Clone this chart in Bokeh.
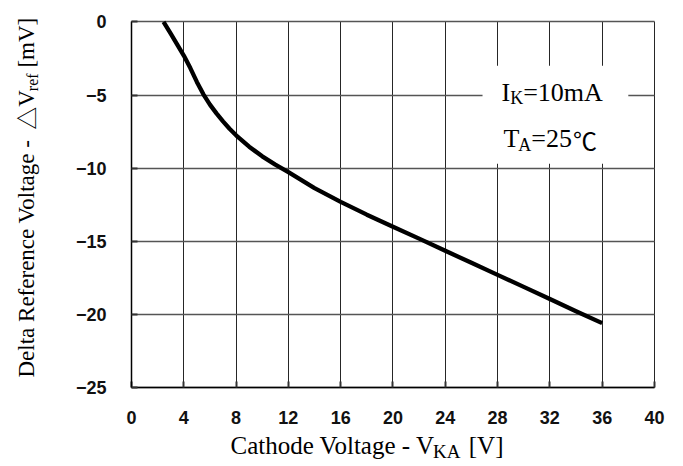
from math import pi
from bokeh.plotting import figure
from bokeh.models import Range1d, FixedTicker, Label, BoxAnnotation, Grid
from bokeh.embed import file_html
from bokeh.resources import INLINE

# ---- data ----
vka = [2.45, 3, 3.5, 4, 4.5, 5, 5.5, 6, 6.5, 7, 7.5, 8, 9, 10, 11, 12, 14, 16,
       18, 20, 22, 24, 26, 28, 30, 32, 34, 36]
dvref = [0, -0.8, -1.55, -2.3, -3.15, -4.1, -4.95, -5.65, -6.25, -6.8, -7.3, -7.75,
         -8.53, -9.19, -9.76, -10.27, -11.36, -12.3, -13.18, -14.0, -14.82, -15.65,
         -16.47, -17.3, -18.12, -18.95, -19.78, -20.6]

x_ticks = [0, 4, 8, 12, 16, 20, 24, 28, 32, 36, 40]
x_tick_labels = ["0", "4", "8", "12", "16", "20", "24", "28", "32", "36", "40"]
y_ticks = [0, -5, -10, -15, -20, -25]
y_tick_labels = ["0", "\u22125", "\u221210", "\u221215", "\u221220", "\u221225"]

x_axis_span = (0, 40)
y_axis_span = (-25, 0)
# visible ranges extended so the titles sit inside the drawing area
x_view = (-10.02, 41.61)
y_view = (-30.13, 1.47)

cond_box = dict(left=26.85, right=38.0, top=-3.0, bottom=-9.7)
cond_row1 = (28.3, -5.37)
cond_row2 = (28.45, -8.56)

SERIF = "Liberation Serif"
CJK = "Noto Sans CJK JP"
BASE_K = 0.32   # anchor-to-baseline correction (fraction of font size)

p = figure(frame_width=675, frame_height=462,
           min_border_left=0, min_border_right=0,
           min_border_top=0, min_border_bottom=0,
           x_range=Range1d(*x_view), y_range=Range1d(*y_view),
           output_backend="svg", toolbar_location=None,
           background_fill_color="white", border_fill_color="white")

p.outline_line_color = None

for ax, ticks, labels, loc, span in ((p.xaxis[0], x_ticks, x_tick_labels, y_axis_span[0], x_axis_span),
                                     (p.yaxis[0], y_ticks, y_tick_labels, x_axis_span[0], y_axis_span)):
    ax.ticker = FixedTicker(ticks=ticks)
    ax.major_label_overrides = {t: l for t, l in zip(ticks, labels)}
    ax.fixed_location = loc
    ax.bounds = span
    ax.axis_line_color = "black"
    ax.axis_line_width = 1.5
    ax.major_tick_in = 6
    ax.major_tick_out = 0
    ax.major_tick_line_color = "#333333"
    ax.major_tick_line_width = 2
    ax.minor_tick_line_color = None
    ax.major_label_text_font = "Liberation Sans"
    ax.major_label_text_font_size = "18px"
    ax.major_label_text_font_style = "bold"
    ax.major_label_text_color = "#111111"

p.xaxis.major_label_standoff = 24
p.yaxis.major_label_standoff = 25

has_cross = "cross_bounds" in Grid.properties()
if has_cross:
    p.xgrid.bounds = x_axis_span
    p.xgrid.cross_bounds = y_axis_span
    p.ygrid.bounds = y_axis_span
    p.ygrid.cross_bounds = x_axis_span
    p.xgrid.grid_line_color = "#262626"
    p.xgrid.grid_line_width = 1
    p.ygrid.grid_line_color = "#555555"
    p.ygrid.grid_line_width = 1.4
else:
    p.xgrid.grid_line_color = None
    p.ygrid.grid_line_color = None
    p.segment(x0=x_ticks, x1=x_ticks, y0=[y_axis_span[0]] * len(x_ticks),
              y1=[y_axis_span[1]] * len(x_ticks), line_color="#262626", line_width=1)
    p.segment(x0=[x_axis_span[0]] * len(y_ticks), x1=[x_axis_span[1]] * len(y_ticks),
              y0=y_ticks, y1=y_ticks, line_color="#555555", line_width=1.4)

p.line(vka, dvref, line_color="black", line_width=4.3, line_cap="butt", line_join="round")

p.add_layout(BoxAnnotation(fill_color="white", fill_alpha=1.0, line_color=None,
                           level="annotation", **cond_box))

W = {' ': 250, 'C': 667, 'a': 444, 't': 278, 'h': 500, 'o': 500, 'd': 500, 'e': 444,
     'V': 722, 'l': 278, 'g': 500, '-': 333, 'K': 722, 'A': 722, '[': 333, ']': 333,
     'm': 778, 'I': 333, 'T': 611, '=': 564, '1': 500, '0': 500, '2': 500, '5': 500,
     'D': 722, 'R': 667, 'f': 333, 'r': 333, 'n': 500, 'c': 444}


def tw(s, size, font):
    if font == CJK:
        return size * len(s)
    return sum(W.get(c, 500) for c in s) * size / 1000.0


def run(pieces, x, y, dx, dy, vertical=False):
    """pieces: (text, size_px, baseline_drop_px, font, extra_advance_px)"""
    adv = 0.0
    for txt, size, drop, font, extra in pieces:
        adv += extra
        lead = len(txt) - len(txt.lstrip(" "))
        adv += tw(" " * lead, size, font)
        txt = txt.strip(" ")
        fix = BASE_K * size
        if vertical:
            xo, yo, ang = dx + drop - fix, dy + adv, pi / 2
        else:
            xo, yo, ang = dx + adv, dy - drop + fix, 0
        p.add_layout(Label(x=x, y=y, x_offset=xo, y_offset=yo, text=txt,
                           text_font=font, text_font_size=f"{size}px",
                           text_color="black", text_align="left",
                           text_baseline="alphabetic", angle=ang))
        adv += tw(txt, size, font)


# x-axis title (anchored at the axes' bottom-left corner, offsets in px)
run([("Cathode Voltage - V", 25, 0, SERIF, 0),
     ("KA", 19, 4, SERIF, -5),
     (" [V]", 25, 0, SERIF, 2)], x_axis_span[0], y_axis_span[0], 99, -66)

# y-axis title (rotated)
run([("Delta Reference Voltage -  ", 23, 0, SERIF, 0),
     ("\u25b3", 23, 0, CJK, 7),
     ("V", 23, 0, SERIF, 0),
     ("ref", 16, 3.5, SERIF, -1),
     (" [mV]", 23, 0, SERIF, 0)], x_axis_span[0], y_axis_span[0], -97.7, 10, vertical=True)

# conditions
run([("I", 26, 0, SERIF, 0), ("K", 18, 3.5, SERIF, 0), ("=10mA", 26, 0, SERIF, 0)],
    cond_row1[0], cond_row1[1], 0, 0)
run([("T", 26, 0, SERIF, 0), ("A", 18, 3.5, SERIF, -1), ("=25", 26, 0, SERIF, 0),
     ("\u2103", 24, 0, CJK, 1)],
    cond_row2[0], cond_row2[1], 0, 0)

open("out.html", "w").write(file_html(p, INLINE))
